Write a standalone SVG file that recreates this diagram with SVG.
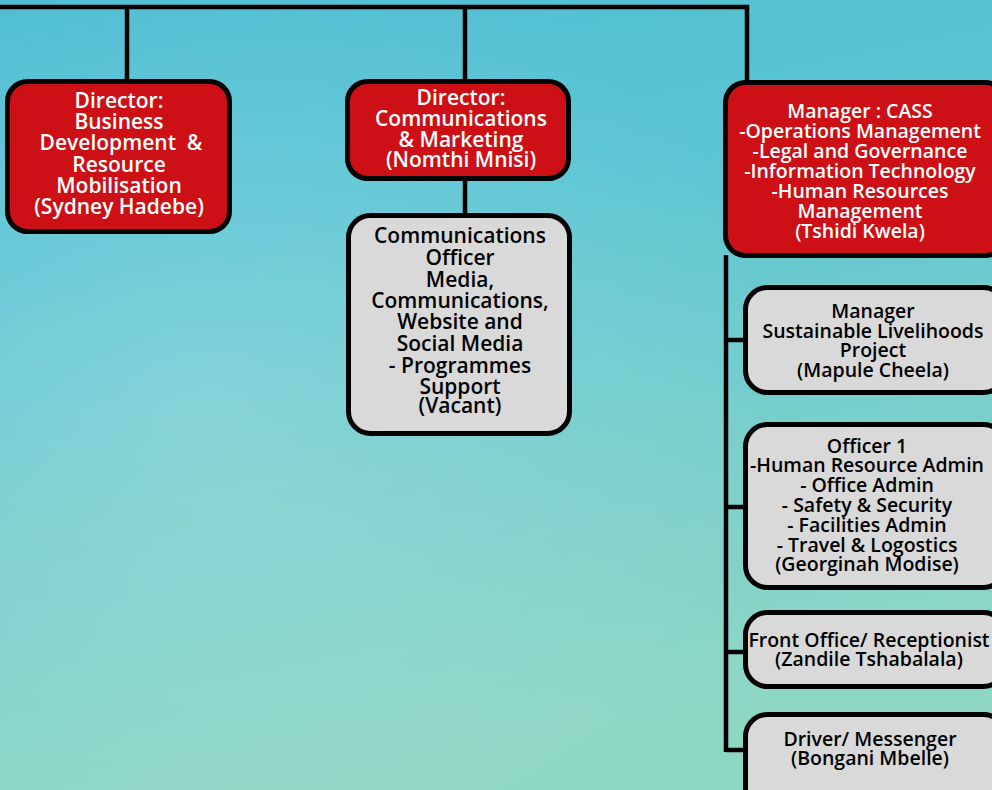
<svg xmlns="http://www.w3.org/2000/svg" width="992" height="790" viewBox="0 0 992 790">
<defs>
<linearGradient id="bg" x1="0" y1="0" x2="0.25" y2="1">
<stop offset="0" stop-color="#4DBDD3"/>
<stop offset="0.35" stop-color="#5CC5D3"/>
<stop offset="0.7" stop-color="#78CFCB"/>
<stop offset="1" stop-color="#8FD7C5"/>
</linearGradient>
<radialGradient id="glow" cx="0.2" cy="0.5" r="0.6">
<stop offset="0" stop-color="#ffffff" stop-opacity="0.18"/>
<stop offset="1" stop-color="#ffffff" stop-opacity="0"/>
</radialGradient>
</defs>
<style>
.red{fill:#CC1016;stroke:#000;stroke-width:5}
.grey{fill:#D9D9D9;stroke:#000;stroke-width:5}
.conn{stroke:#000;stroke-width:4.5;fill:none}
text{font-family:"Open Sans","Liberation Sans",sans-serif;font-weight:600;font-size:19.5px;text-anchor:middle}
text.L{font-size:21px}
.w{fill:#fff}
.b{fill:#000}
</style>
<rect x="0" y="0" width="992" height="790" fill="url(#bg)"/>
<rect x="0" y="0" width="992" height="790" fill="url(#glow)"/>
<g id="connectors">
<path class="conn" d="M0 7 H747 V84"/>
<path class="conn" d="M127 7 V82"/>
<path class="conn" d="M465 7 V82"/>
<path class="conn" d="M465 178 V216"/>
<path class="conn" d="M726 255 V752"/>
<path class="conn" d="M726 340 H746"/>
<path class="conn" d="M726 507 H746"/>
<path class="conn" d="M726 652 H746"/>
<path class="conn" d="M726 750 H746"/>
</g>
<g id="dir-business">
<rect class="red" x="7.5" y="81.5" width="222" height="150" rx="20"/>
<text class="w L"><tspan x="119" y="108">Director:</tspan><tspan x="119" y="129">Business</tspan><tspan x="121" y="150">Development &#160;&amp;</tspan><tspan x="119" y="172">Resource</tspan><tspan x="119" y="193">Mobilisation</tspan><tspan x="119" y="214">(Sydney Hadebe)</tspan></text>
</g>
<g id="dir-comms">
<rect class="red" x="347.5" y="81.5" width="221" height="97" rx="20"/>
<text class="w L"><tspan x="461" y="105">Director:</tspan><tspan x="461" y="126">Communications</tspan><tspan x="461" y="147">&amp; Marketing</tspan><tspan x="461" y="167">(Nomthi Mnisi)</tspan></text>
</g>
<g id="comms-officer">
<rect class="grey" x="348.5" y="215.5" width="221" height="218" rx="22"/>
<text class="b L"><tspan x="460" y="243">Communications</tspan><tspan x="460" y="265">Officer</tspan><tspan x="460" y="287">Media,</tspan><tspan x="460" y="308">Communications,</tspan><tspan x="460" y="329">Website and</tspan><tspan x="460" y="351">Social Media</tspan><tspan x="460" y="373">- Programmes</tspan><tspan x="460" y="394">Support</tspan><tspan x="460" y="413">(Vacant)</tspan></text>
</g>
<g id="mgr-cass">
<rect class="red" x="725.5" y="82.5" width="280" height="173" rx="20"/>
<text class="w"><tspan x="860" y="118">Manager : CASS</tspan><tspan x="860" y="138">-Operations Management</tspan><tspan x="860" y="158">-Legal and Governance</tspan><tspan x="860" y="178">-Information Technology</tspan><tspan x="860" y="198">-Human Resources</tspan><tspan x="860" y="218">Management</tspan><tspan x="860" y="238">(Tshidi Kwela)</tspan></text>
</g>
<g id="mgr-sl">
<rect class="grey" x="745.5" y="287.5" width="260" height="105" rx="22"/>
<text class="b"><tspan x="873" y="318">Manager</tspan><tspan x="873" y="338">Sustainable Livelihoods</tspan><tspan x="873" y="357">Project</tspan><tspan x="873" y="377">(Mapule Cheela)</tspan></text>
</g>
<g id="officer1">
<rect class="grey" x="745.5" y="424.5" width="260" height="163" rx="22"/>
<text class="b"><tspan x="867" y="453">Officer 1</tspan><tspan x="867" y="472">-Human Resource Admin</tspan><tspan x="867" y="492">- Office Admin</tspan><tspan x="867" y="512">- Safety &amp; Security</tspan><tspan x="867" y="532">- Facilities Admin</tspan><tspan x="867" y="552">- Travel &amp; Logostics</tspan><tspan x="867" y="571">(Georginah Modise)</tspan></text>
</g>
<g id="front-office">
<rect class="grey" x="745.5" y="612.5" width="260" height="74" rx="22"/>
<text class="b"><tspan x="869" y="647">Front Office/ Receptionist</tspan><tspan x="869" y="666">(Zandile Tshabalala)</tspan></text>
</g>
<g id="driver">
<rect class="grey" x="745.5" y="714.5" width="260" height="100" rx="22"/>
<text class="b"><tspan x="870" y="746">Driver/ Messenger</tspan><tspan x="870" y="765">(Bongani Mbelle)</tspan></text>
</g>
</svg>
